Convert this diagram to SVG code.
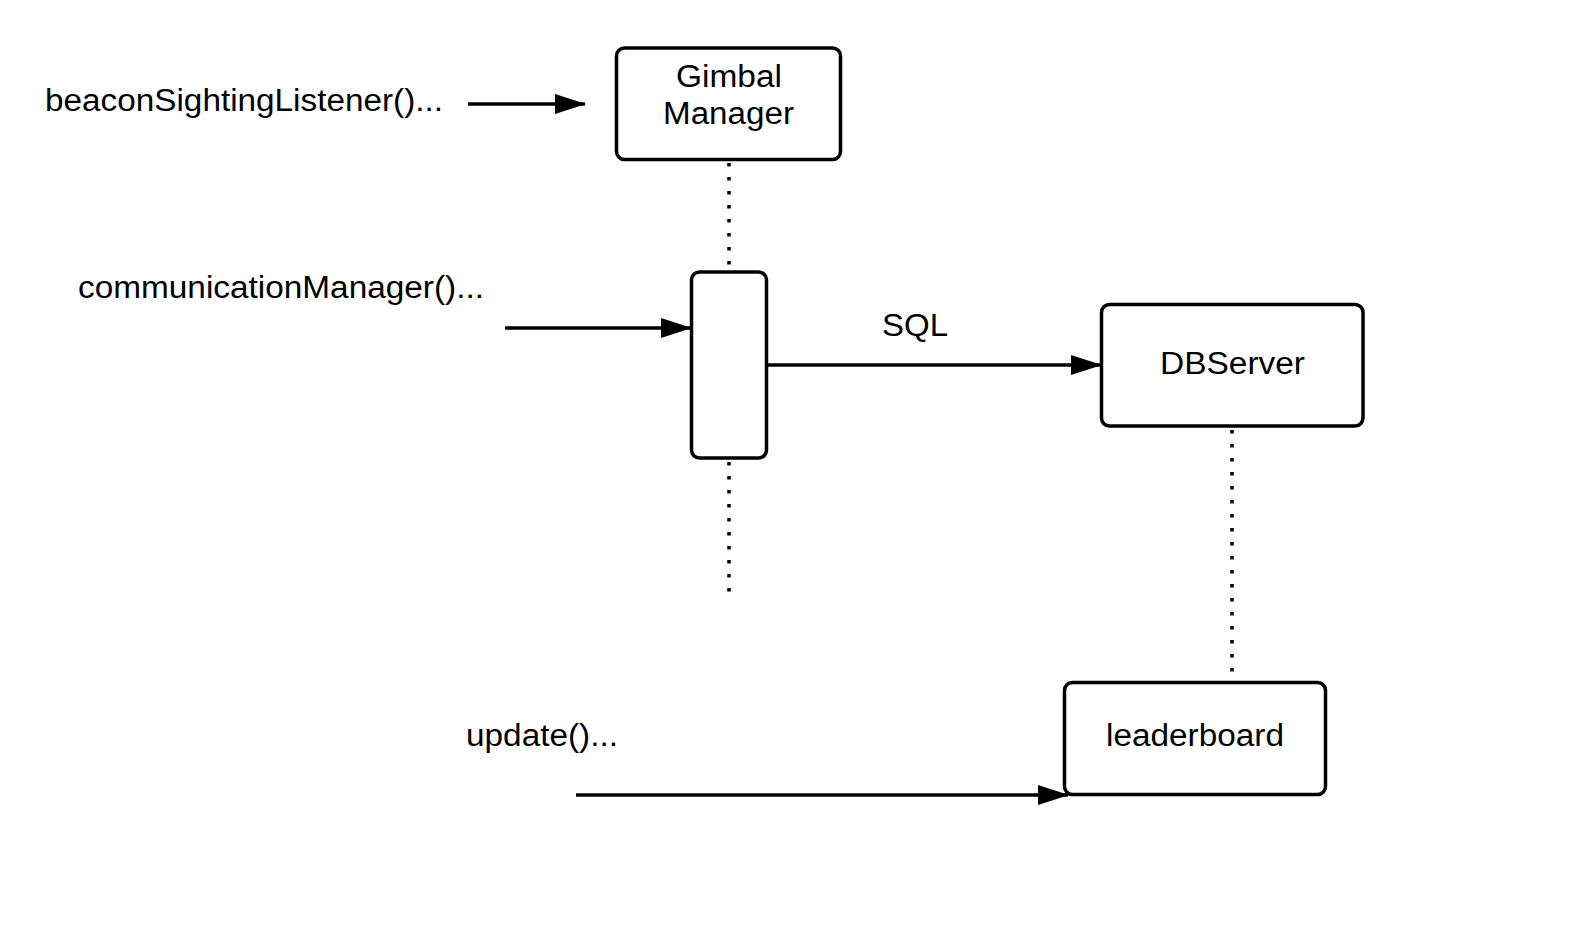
<svg xmlns="http://www.w3.org/2000/svg" width="1576" height="948" viewBox="0 0 1576 948">
<defs>
<marker id="ah" markerWidth="32" markerHeight="20" refX="30" refY="10" orient="auto" markerUnits="userSpaceOnUse">
<path d="M0,0 L31,10 L0,20 Z" fill="#000"/>
</marker>
<style>
.box{fill:#fff;stroke:#000;stroke-width:3.5}
.t{font-family:"Liberation Sans",Arial,sans-serif;font-size:31px;fill:#000}
.msg{stroke:#000;stroke-width:3.5;fill:none}
.life{stroke:#000;stroke-width:3.5;stroke-dasharray:3.5 10.5;fill:none}
</style>
</defs>
<rect width="1576" height="948" fill="#fff"/>
<g id="connectors">
<line class="life" x1="729" y1="163" x2="729" y2="272"/>
<line class="life" x1="729" y1="462" x2="729" y2="600"/>
<line class="life" x1="1232" y1="430" x2="1232" y2="682"/>
<line class="msg" x1="468" y1="104" x2="585" y2="104" marker-end="url(#ah)"/>
<line class="msg" x1="505" y1="328" x2="691" y2="328" marker-end="url(#ah)"/>
<line class="msg" x1="766" y1="365" x2="1101" y2="365" marker-end="url(#ah)"/>
<line class="msg" x1="576" y1="795" x2="1068" y2="795" marker-end="url(#ah)"/>
</g>
<g id="gimbal">
<rect class="box" x="616.5" y="48" width="224" height="111.5" rx="8"/>
<text class="t" x="676" y="87" textLength="106" lengthAdjust="spacingAndGlyphs">Gimbal</text>
<text class="t" x="663" y="124" textLength="131" lengthAdjust="spacingAndGlyphs">Manager</text>
</g>
<g id="activation">
<rect class="box" x="691.5" y="272" width="75" height="186" rx="8"/>
</g>
<g id="dbserver">
<rect class="box" x="1101.5" y="304.5" width="261.5" height="121.5" rx="8"/>
<text class="t" x="1160" y="374" textLength="145" lengthAdjust="spacingAndGlyphs">DBServer</text>
</g>
<g id="leaderboard">
<rect class="box" x="1064.5" y="682.5" width="261" height="112" rx="8"/>
<text class="t" x="1106" y="746" textLength="178" lengthAdjust="spacingAndGlyphs">leaderboard</text>
</g>
<g id="labels">
<text class="t" x="45" y="111" textLength="398" lengthAdjust="spacingAndGlyphs">beaconSightingListener()...</text>
<text class="t" x="78" y="298" textLength="406" lengthAdjust="spacingAndGlyphs">communicationManager()...</text>
<text class="t" x="882" y="336" textLength="66" lengthAdjust="spacingAndGlyphs">SQL</text>
<text class="t" x="466" y="746" textLength="152" lengthAdjust="spacingAndGlyphs">update()...</text>
</g>
</svg>
